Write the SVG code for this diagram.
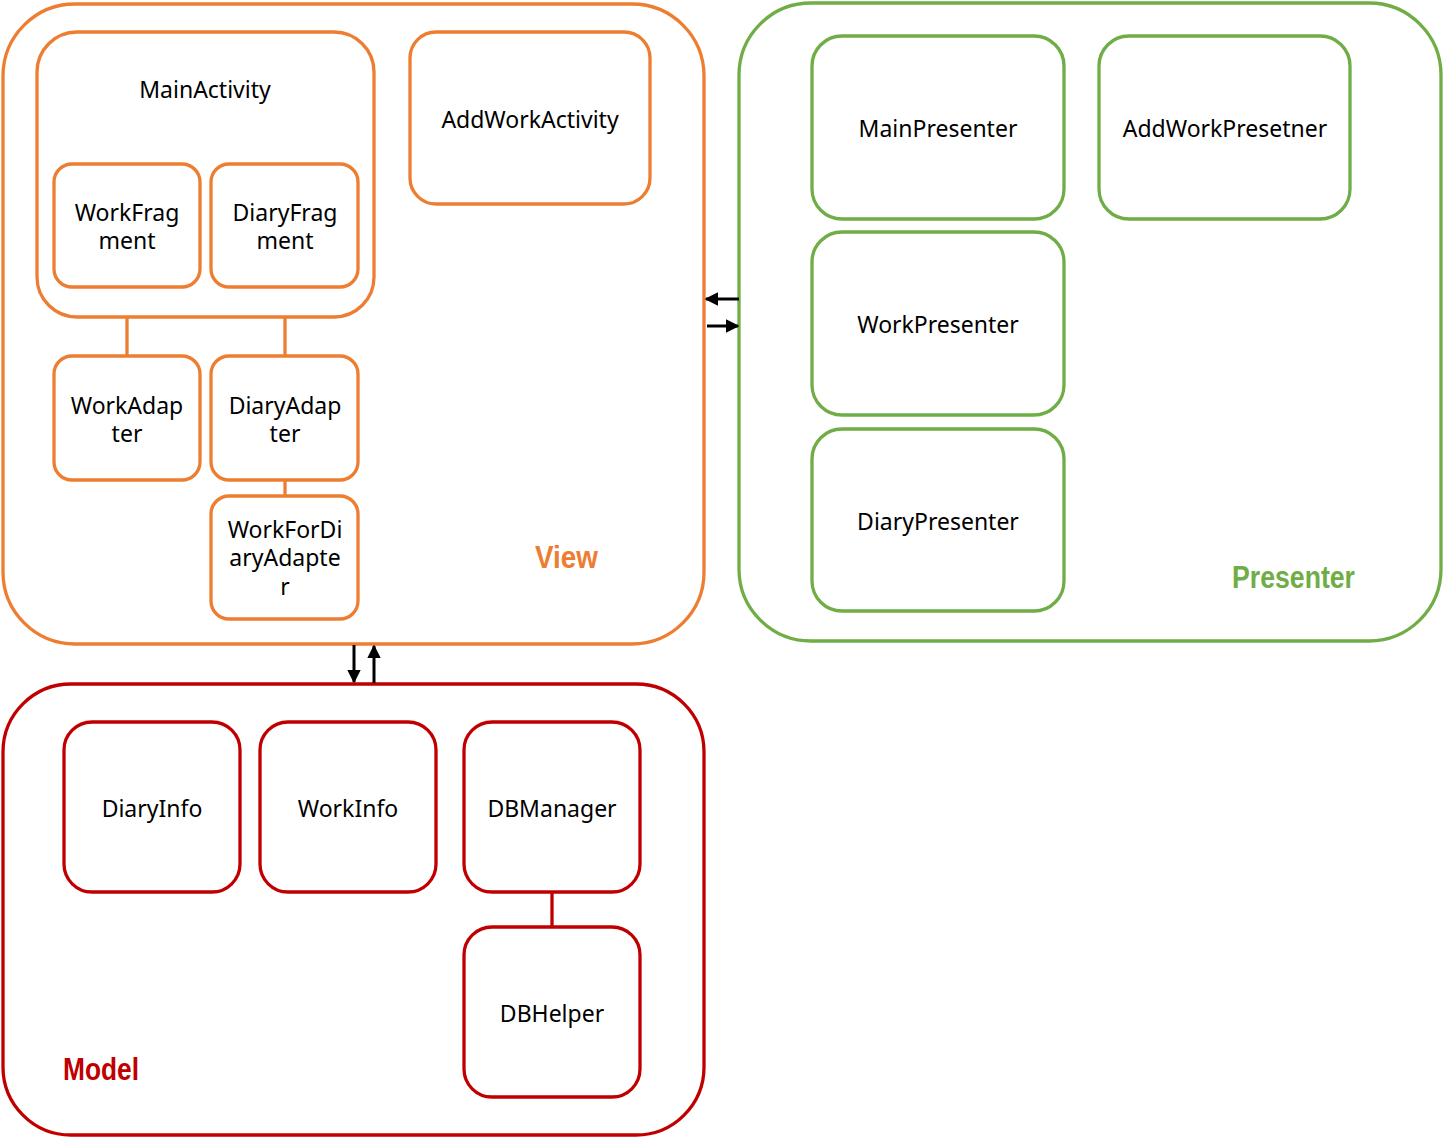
<svg xmlns="http://www.w3.org/2000/svg" width="1443" height="1138" viewBox="0 0 1443 1138">
<defs>
<style>
.v{fill:#fff;stroke:#ED7D31;stroke-width:3.3}
.p{fill:#fff;stroke:#70AD47;stroke-width:3.3}
.m{fill:#fff;stroke:#C00000;stroke-width:3.3}
.t{font-family:"Noto Sans","Open Sans",sans-serif;font-size:23px;fill:#000;text-anchor:middle}
.h{font-family:"Liberation Sans",sans-serif;font-weight:bold;font-size:31px}
.c{fill:none;stroke-width:3.3}
.a{stroke:#000;stroke-width:3;fill:none}
</style>
<marker id="ah" viewBox="0 0 10 10" refX="9" refY="5" markerWidth="4.5" markerHeight="4.5" orient="auto" markerUnits="strokeWidth"><path d="M0,0 L10,5 L0,10 z" fill="#000"/></marker>
</defs>
<rect width="1443" height="1138" fill="#fff"/>
<g id="view">
<rect class="v" x="3" y="4" width="701" height="640" rx="72"/>
<text class="h" x="535" y="568" fill="#ED7D31" textLength="63" lengthAdjust="spacingAndGlyphs">View</text>
</g>
<g id="presenter">
<rect class="p" x="739" y="3" width="702" height="638" rx="72"/>
<text class="h" x="1232" y="588" fill="#70AD47" textLength="123" lengthAdjust="spacingAndGlyphs">Presenter</text>
</g>
<g id="model">
<rect class="m" x="3" y="684" width="701" height="451" rx="68"/>
<text class="h" x="63" y="1080" fill="#C00000" textLength="76" lengthAdjust="spacingAndGlyphs">Model</text>
</g>
<g id="connectors">
<line class="c" stroke="#ED7D31" x1="127" y1="287" x2="127" y2="356"/>
<line class="c" stroke="#ED7D31" x1="285" y1="287" x2="285" y2="356"/>
<line class="c" stroke="#ED7D31" x1="285" y1="480" x2="285" y2="496"/>
<line class="c" stroke="#C00000" x1="552" y1="892" x2="552" y2="927"/>
<line class="a" x1="739" y1="299" x2="706" y2="299" marker-end="url(#ah)"/>
<line class="a" x1="707" y1="326" x2="738" y2="326" marker-end="url(#ah)"/>
<line class="a" x1="354" y1="645" x2="354" y2="682" marker-end="url(#ah)"/>
<line class="a" x1="374" y1="683" x2="374" y2="646" marker-end="url(#ah)"/>
</g>
<g id="MainActivity">
<rect class="v" x="37" y="32" width="337" height="285" rx="40"/>
<text class="t" x="205" y="98">MainActivity</text>
</g>
<g id="AddWorkActivity">
<rect class="v" x="410" y="32" width="240" height="172" rx="26"/>
<text class="t" x="530" y="128">AddWorkActivity</text>
</g>
<g id="WorkFragment">
<rect class="v" x="54" y="164" width="146" height="123" rx="18"/>
<text class="t" x="127" y="221">WorkFrag</text>
<text class="t" x="127" y="249">ment</text>
</g>
<g id="DiaryFragment">
<rect class="v" x="211" y="164" width="147" height="123" rx="18"/>
<text class="t" x="285" y="221">DiaryFrag</text>
<text class="t" x="285" y="249">ment</text>
</g>
<g id="WorkAdapter">
<rect class="v" x="54" y="356" width="146" height="124" rx="18"/>
<text class="t" x="127" y="414">WorkAdap</text>
<text class="t" x="127" y="442">ter</text>
</g>
<g id="DiaryAdapter">
<rect class="v" x="211" y="356" width="147" height="124" rx="18"/>
<text class="t" x="285" y="414">DiaryAdap</text>
<text class="t" x="285" y="442">ter</text>
</g>
<g id="WorkForDiaryAdapter">
<rect class="v" x="211" y="496" width="147" height="123" rx="18"/>
<text class="t" x="285" y="538">WorkForDi</text>
<text class="t" x="285" y="566">aryAdapte</text>
<text class="t" x="285" y="595">r</text>
</g>
<g id="MainPresenter">
<rect class="p" x="812" y="36" width="252" height="183" rx="30"/>
<text class="t" x="938" y="137">MainPresenter</text>
</g>
<g id="AddWorkPresetner">
<rect class="p" x="1099" y="36" width="251" height="183" rx="30"/>
<text class="t" x="1225" y="137">AddWorkPresetner</text>
</g>
<g id="WorkPresenter">
<rect class="p" x="812" y="232" width="252" height="183" rx="30"/>
<text class="t" x="938" y="333">WorkPresenter</text>
</g>
<g id="DiaryPresenter">
<rect class="p" x="812" y="429" width="252" height="182" rx="30"/>
<text class="t" x="938" y="530">DiaryPresenter</text>
</g>
<g id="DiaryInfo">
<rect class="m" x="64" y="722" width="176" height="170" rx="28"/>
<text class="t" x="152" y="817">DiaryInfo</text>
</g>
<g id="WorkInfo">
<rect class="m" x="260" y="722" width="176" height="170" rx="28"/>
<text class="t" x="348" y="817">WorkInfo</text>
</g>
<g id="DBManager">
<rect class="m" x="464" y="722" width="176" height="170" rx="28"/>
<text class="t" x="552" y="817">DBManager</text>
</g>
<g id="DBHelper">
<rect class="m" x="464" y="927" width="176" height="170" rx="28"/>
<text class="t" x="552" y="1022">DBHelper</text>
</g>
</svg>
